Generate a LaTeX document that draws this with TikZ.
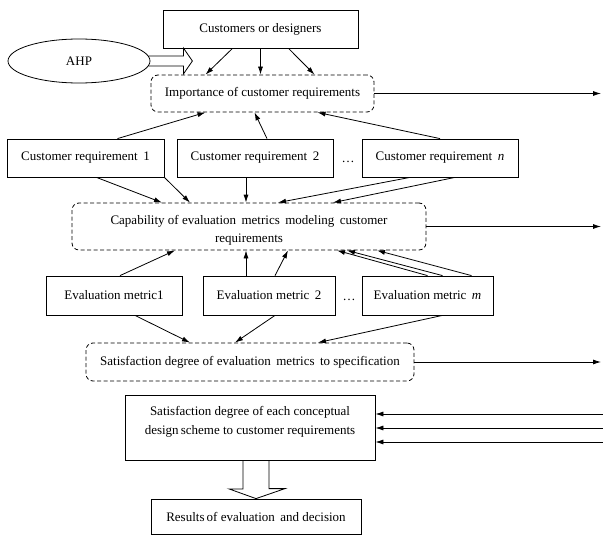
\documentclass[tikz,border=0pt]{standalone}
\usepackage{fontspec}
\setmainfont{Liberation Serif}
\usetikzlibrary{arrows.meta,shapes.geometric}

\tikzset{
  box/.style={draw, rectangle, inner sep=0pt, align=center},
  dbox/.style={box, dash pattern=on 4pt off 2.5pt, rounded corners=7pt},
  arr/.style={-{Latex[length=8pt,width=5pt]}},
}

\begin{document}
\begin{tikzpicture}[x=1pt, y=-1pt, line width=0.8pt, font=\fontsize{13}{18.5}\selectfont]
%\draw [help lines] (0,0) grid (603,535);
\useasboundingbox (0,0) rectangle (603,535);

% top part
\node [box, minimum width=195pt, minimum height=38pt] (cd) at (260.5,29) {Customers or designers};
\node [draw, ellipse, inner sep=0pt, minimum width=142pt, minimum height=44pt] (ahp) at (79,61) {AHP};
\node [dbox, minimum width=223pt, minimum height=37pt] (imp) at (262.5,93.5) {Importance of customer requirements};

\draw ([xshift=-2pt,yshift=5pt]ahp.east) -- ++(35,0) -- ++(0,-8) -- ++(9,13) -- ++(-9,13) -- ++(0,-8) -- ++(-35,0);

\draw [arr] ([xshift=-28pt]cd.south) -- ([xshift=-57pt]imp.north);
\draw [arr] (cd.south) -- (cd.south |- imp.north);
\draw [arr] ([xshift=28pt]cd.south) -- ([xshift=52pt]imp.north);

% customer requirements
\node [box, minimum width=157pt, minimum height=38pt] (cr1) at (85.5,158) {Customer requirement\, 1};
\node [box, minimum width=156pt, minimum height=38pt] (cr2) at (255,158) {Customer requirement\, 2};
\node [box, minimum width=156pt, minimum height=38pt] (crn) at (440,158) {Customer requirement\, \textit{n}};
\node (dots1) at (348,162) {\ldots};

\draw [arr] ([xshift=32pt]cr1.north) -- ([xshift=-57pt]imp.south);
\draw [arr] ([xshift=12pt]cr2.north) -- ([xshift=-8pt]imp.south);
\draw [arr] (crn.north) -- ([xshift=55pt]imp.south);

\node [dbox, minimum width=354pt, minimum height=47pt] (cap) at (249,226.5) {};
\node [align=center] (captext) at ([yshift=-4pt]cap.center) {Capability of evaluation\, metrics\, modeling\, customer\\requirements};

\draw [arr] ([xshift=11pt]cr1.south) -- ([xshift=-87pt]cap.north);
\draw [arr] (cr1.south east) -- ([xshift=-59pt]cap.north);
\draw [arr] ([xshift=-9pt]cr2.south) -- ([xshift=-3pt]cap.north);
\draw [arr] ([xshift=-30pt]crn.south) -- ([xshift=29pt]cap.north);
\draw [arr] ([xshift=15pt]crn.south) -- ([xshift=84pt]cap.north);

% evaluation metrics
\node [box, minimum width=136pt, minimum height=39pt] (em1) at (114,295.5) {Evaluation metric1};
\node [box, minimum width=132pt, minimum height=39pt] (em2) at (269,295.5) {Evaluation metric\, 2};
\node [box, minimum width=131pt, minimum height=39pt] (emm) at (427.5,295.5) {Evaluation metric\, \textit{m}};
\node (dots2) at (349,300) {\ldots};

\draw [arr] ([xshift=6pt]em1.north) -- ([xshift=-74pt]cap.south);
\draw [arr] ([xshift=-23pt]em2.north) -- ([xshift=-3pt]cap.south);
\draw [arr] ([xshift=6pt]em2.north) -- ([xshift=39pt]cap.south);
\draw [arr] (emm.north) -- ([xshift=88pt]cap.south);
\draw [arr] ([xshift=15pt]emm.north) -- ([xshift=98pt]cap.south);
\draw [arr] ([xshift=44pt]emm.north) -- ([xshift=128pt]cap.south);

\node [dbox, minimum width=328pt, minimum height=38pt] (sat) at (250,362) {Satisfaction degree of evaluation\, metrics\, to specification};

\draw [arr] ([xshift=21pt]em1.south) -- ([xshift=-60pt]sat.north);
\draw [arr] ([xshift=6pt]em2.south) -- ([xshift=-15pt]sat.north);
\draw [arr] ([xshift=15pt]emm.south) -- ([xshift=68pt]sat.north);

% outputs to the right
\coordinate (edge) at (601,0);
\draw [arr] (imp.east) -- (imp.east -| edge);
\draw [arr] (cap.east) -- (cap.east -| edge);
\draw [arr] (sat.east) -- (sat.east -| edge);

% bottom part
\node [box, minimum width=250pt, minimum height=65pt] (sch) at (250,428) {};
\node [align=center] (schtext) at ([yshift=6pt]sch.center) {Satisfaction degree of each conceptual\\design\,scheme to customer requirements};

\coordinate (in1) at (603,414);
\coordinate (in2) at (603,428);
\coordinate (in3) at (603,442);
\draw [arr] (in1) -- (in1 -| sch.east);
\draw [arr] (in2) -- (in2 -| sch.east);
\draw [arr] (in3) -- (in3 -| sch.east);

\node [box, minimum width=210pt, minimum height=35.5pt] (res) at (256,516.75) {Results\,of evaluation\, and decision};

\draw ([xshift=-7pt]sch.south) -- ++(0,28) -- ++(-14,0) -- (res.north) -- ++(29,-10) -- ++(-16,0) -- ([xshift=19pt]sch.south);

\end{tikzpicture}
\end{document}
